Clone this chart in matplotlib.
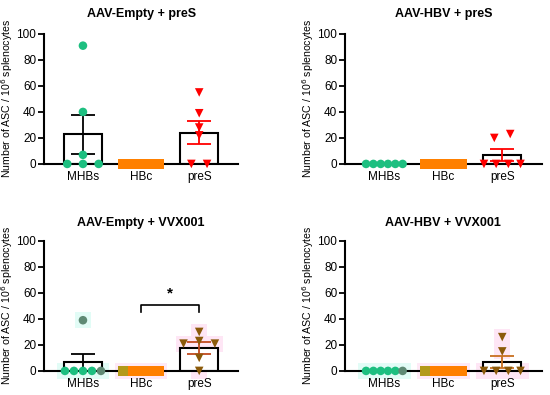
import numpy as np
import matplotlib
matplotlib.use('Agg')
from matplotlib import pyplot as plt

plt.rcParams['font.family'] = ['Liberation Sans', 'DejaVu Sans']

groups = ['MHBs', 'HBc', 'preS']
titles = ['AAV-Empty + preS', 'AAV-HBV + preS', 'AAV-Empty + VVX001', 'AAV-HBV + VVX001']

# ASC per 10^6 splenocytes, one list per mouse group
mhbs = [[91, 40, 7, 0, 0, 0],
        [0, 0, 0, 0, 0, 0],
        [39, 0, 0, 0, 0, 0],
        [0, 0, 0, 0, 0, 0]]
hbc = [[0, 0, 0, 0, 0, 0]] * 4
pres = [[55, 39, 28, 22, 0, 0],
        [23, 20, 0, 0, 0, 0],
        [30, 23, 21, 21, 10, 0],
        [26, 15, 0, 0, 0, 0]]

green = '#1dbf80'
orange = '#ff8000'
red = '#ff0000'
brown = '#8b5a0a'


def swarm(vals, thr=5, maxsp=0.27, width=0.62):
    # spread points sharing about the same value side by side
    vals = np.asarray(vals, float)
    order = np.argsort(-vals, kind='stable')
    offs = np.zeros(len(vals))
    i = 0
    while i < len(order):
        j = i
        while j + 1 < len(order) and vals[order[i]] - vals[order[j + 1]] < thr:
            j += 1
        n = j - i + 1
        if n > 1:
            sp = min(maxsp, width / (n - 1))
            if n % 2:
                slots = [0] + [s for k in range(1, n // 2 + 1) for s in (-k, k)]
            else:
                slots = [s for k in range(n // 2) for s in (k + 0.5, -k - 0.5)]
            for k in range(n):
                offs[order[i + k]] = slots[k] * sp
        i = j + 1
    return offs


def sem(v):
    v = np.asarray(v, float)
    return v.std(ddof=1) / np.sqrt(len(v))


fig = plt.figure(figsize=(5.5, 3.95), dpi=100)
boxes = [[0.08, 0.585, 0.353, 0.329], [0.627, 0.585, 0.358, 0.329],
         [0.08, 0.061, 0.353, 0.329], [0.627, 0.061, 0.358, 0.329]]

for p in range(4):
    ax = fig.add_axes(boxes[p])
    bottom = p >= 2
    data = [mhbs[p], hbc[p], pres[p]]
    markers = ['o', 's', 'v']
    cols = [green, orange, brown if bottom else red]
    ecols = ['black', orange, ('#c04a20' if p == 2 else '#c87020') if bottom else red]
    halos = ['#e2fcf6', '#fee9f6', '#fee6f5']
    for g in range(3):
        v = np.asarray(data[g], float)
        m = v.mean()
        if g != 1:
            ax.bar(g, m, width=0.65, color='white', edgecolor='black', linewidth=1.5, zorder=2)
            s = sem(v)
            ax.errorbar(g, m, yerr=s, color=ecols[g], capsize=8.5, capthick=1.3,
                        elinewidth=1.3, zorder=3)
        off = swarm(v)
        x = g + off
        if bottom:
            ax.scatter(x, v, marker='s', s=120, color=halos[g], zorder=1.5,
                       clip_on=False, linewidths=0)
        c = [cols[g]] * len(v)
        if bottom and g == 0:
            zeros = np.where(v == 0)[0]
            c[zeros[np.argmax(off[zeros])]] = '#5f8a74'
            for k in np.where(v > 0)[0]:
                c[k] = '#5f8a74'
        if bottom and g == 1:
            c[int(np.argmin(off))] = '#b39a1a'
        ax.scatter(x, v, marker=markers[g], s=38 if g != 1 else 55, color=c,
                   zorder=4, clip_on=False, linewidths=0)

    if p == 2:
        ax.plot([1, 1, 2, 2], [45, 51, 51, 45], color='black', lw=1.2, zorder=3)
        ax.text(1.5, 54, '*', ha='center', va='bottom', fontsize=11, fontweight='bold')

    ax.set_xlim(-0.67, 2.67)
    ax.set_ylim(0, 100)
    ax.set_yticks([0, 20, 40, 60, 80, 100])
    ax.set_xticks([0, 1, 2])
    ax.set_xticklabels(groups)
    ax.tick_params(axis='x', length=0, labelsize=8.5, pad=5)
    ax.tick_params(axis='y', length=4, width=1.3, labelsize=8.5, pad=1.5)
    for sp in ['top', 'right']:
        ax.spines[sp].set_visible(False)
    for sp in ['left', 'bottom']:
        ax.spines[sp].set_linewidth(1.5)
    ax.set_title(titles[p], fontsize=9, fontweight='bold', pad=12.5 if not bottom else 11)
    ax.set_ylabel('Number of ASC / 10$^6$ splenocytes', fontsize=7.6, labelpad=1)

fig.savefig('out.png', dpi=100)
